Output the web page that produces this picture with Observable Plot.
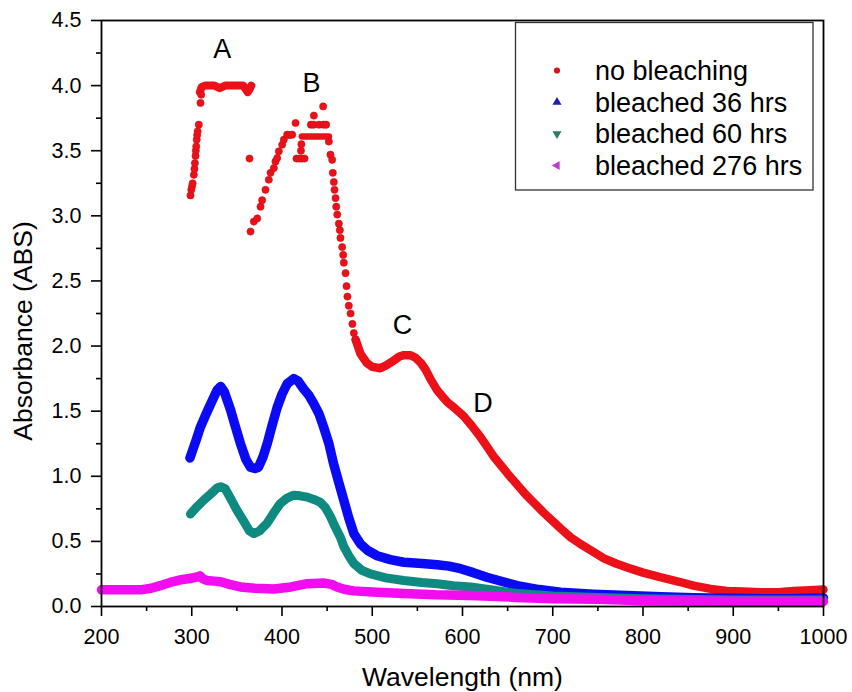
<!DOCTYPE html>
<html><head><meta charset="utf-8">
<script src="https://cdn.jsdelivr.net/npm/d3@7"></script>
<script src="https://cdn.jsdelivr.net/npm/@observablehq/plot@0.6"></script>
<style>body{margin:0;background:#fff;} #chart{width:852px;height:692px;}</style>
</head><body><div id="chart"></div>
<script>
const FONT = "'Liberation Sans', Arial, Helvetica, sans-serif";

// ---- tick values ----
const xMajor = [200, 300, 400, 500, 600, 700, 800, 900, 1000];
const xMinor = [250, 350, 450, 550, 650, 750, 850, 950];
const yMajor = [0, 0.5, 1.0, 1.5, 2.0, 2.5, 3.0, 3.5, 4.0, 4.5];
const yMinor = [0.25, 0.75, 1.25, 1.75, 2.25, 2.75, 3.25, 3.75, 4.25];

// ---- series names ----
const seriesNames = ["no bleaching", "bleached 36 hrs", "bleached 60 hrs", "bleached 276 hrs"];
const seriesColors = ["#ec1018", "#0a0af5", "#0f8a80", "#f20cef"];
const legendColors = ["#d41418", "#1f1fb0", "#2a7a6e", "#c03ad0"];

// ---- no bleaching: saturated, scattered region (dots) ----
const redDotNm  = [298.6,299.5,300.3,301,302.3,303,303.5,304.2,304.5,305,305.5,306,306.5,307.8,309.7,310.5,
                   364,
                   365.1,368.8,372.5,376.2,378,381.7,385.4,387.3,391,392.8,394.7,396.5,400.2,402,405.7,408.5,411.3,415,
                   416,419,422,425,421,421.5,
                   432,435,441,446,449,435.3,445.6,
                   451.9,453.7,455.6,456.3,457.4,458.2,459.3,460.1,461.2,463,464.1,464.8,466.7,467.8,468.5,470.4,471.5,472.5,474,476,478,479.6,481.5];
const redDotAbs = [3.157,3.20,3.226,3.25,3.315,3.36,3.405,3.46,3.50,3.533,3.585,3.62,3.649,3.70,3.867,3.93,
                   3.44,
                   2.879,2.956,2.98,3.07,3.12,3.20,3.277,3.33,3.367,3.418,3.444,3.495,3.546,3.585,3.623,3.62,3.623,3.713,
                   3.44,3.44,3.44,3.44,3.50,3.55,
                   3.70,3.70,3.70,3.70,3.70,3.77,3.84,
                   3.57,3.47,3.43,3.33,3.26,3.20,3.136,3.07,3.01,2.94,2.89,2.83,2.76,2.70,2.64,2.56,2.46,2.38,2.31,2.25,2.17,2.10,2.05];

// ---- no bleaching: plateau at ~4.0 (A) ----
const redPlatANm  = [309, 311, 315, 325, 331, 337, 350, 357, 360, 362, 364, 366];
const redPlatAAbs = [3.95,3.99,4.00,4.00,3.98,4.00,4.00,4.00,3.97,3.95,3.97,4.00];

// ---- no bleaching: plateau at ~3.61 (B) ----
const redPlatBNm  = [422, 430, 440, 452];
const redPlatBAbs = [3.61, 3.61, 3.61, 3.61];

// ---- no bleaching: continuous part ----
const redNm  = [481.5,483,487,494,500,509,515,522,530,535,542,548,554,559,565,572,578,583,592,601.5,610,620,627,634.7,650,670,690,708.6,720,730.7,745,756.6,770,782.5,800,819,840,856,875,893,910,930,950,967,985,1000];
const redAbs = [2.05,2.02,1.94,1.87,1.84,1.83,1.85,1.88,1.92,1.93,1.93,1.91,1.87,1.82,1.74,1.66,1.61,1.57,1.52,1.46,1.39,1.30,1.23,1.15,1.02,0.86,0.72,0.60,0.53,0.48,0.42,0.37,0.33,0.30,0.26,0.225,0.19,0.16,0.135,0.12,0.115,0.11,0.11,0.12,0.125,0.13];

// ---- bleached 36 hrs ----
const blueNm  = [298,305,309.7,316,322.6,328,332,336,343,348,354,360,365,370,374,379,383.6,389,394.7,400,405.7,413,418,424,430,435,441,446,452,457,463,468.5,474,479.6,487,495,505.5,520,535,555,572,585,598,612,627,645,660.6,685,708.6,745,782.5,820,856,893,930,965,1000];
const blueAbs = [1.14,1.28,1.38,1.48,1.58,1.66,1.69,1.65,1.51,1.39,1.25,1.13,1.07,1.06,1.07,1.15,1.25,1.39,1.53,1.63,1.71,1.75,1.73,1.67,1.62,1.56,1.48,1.38,1.25,1.10,0.95,0.815,0.68,0.56,0.48,0.43,0.39,0.36,0.34,0.33,0.32,0.31,0.29,0.26,0.225,0.19,0.16,0.13,0.11,0.095,0.085,0.075,0.067,0.063,0.06,0.06,0.065];

// ---- bleached 60 hrs ----
const tealNm  = [298.6,305,313,322,328,332,337,343,350,358,364,368.8,375,383.6,390,398,405,413,420,428,436,442.6,448,453.7,459,464.8,468.5,474,479.6,488,498,515,535,555,572,590,609,635,660.6,700,750,800,900,1000];
const tealAbs = [0.71,0.76,0.815,0.87,0.91,0.92,0.905,0.83,0.74,0.65,0.58,0.56,0.58,0.64,0.71,0.79,0.83,0.855,0.85,0.84,0.82,0.80,0.76,0.69,0.61,0.53,0.46,0.39,0.33,0.28,0.25,0.22,0.20,0.185,0.175,0.16,0.15,0.125,0.10,0.08,0.07,0.06,0.05,0.05];

// ---- bleached 276 hrs ----
const magNm  = [200,220,243,255,265,276,287.5,298,305,309,313,317,325,332,342,354,370,391,410,428,446,455,461,470,479.6,505,535,570,609,660,700,750,800,900,1000];
const magAbs = [0.128,0.128,0.128,0.14,0.16,0.185,0.205,0.215,0.225,0.235,0.21,0.20,0.195,0.19,0.17,0.15,0.14,0.135,0.15,0.175,0.18,0.17,0.15,0.13,0.12,0.11,0.10,0.09,0.085,0.07,0.06,0.055,0.045,0.04,0.04];

// ---- peak annotations ----
const peakLabels = ["A", "B", "C", "D"];
const peakNm  = [333.7, 432.7, 533.5, 622.7];
const peakAbs = [4.277, 4.02, 2.16, 1.56];

const rows = (nm, abs) => nm.map((x, i) => ({nm: x, abs: abs[i]}));
const redLines = [
  ...rows(redPlatANm, redPlatAAbs).map(d => ({...d, part: "A"})),
  ...rows(redPlatBNm, redPlatBAbs).map(d => ({...d, part: "B"})),
  ...rows(redNm, redAbs).map(d => ({...d, part: "C"}))
];
const labelRows = peakLabels.map((t, i) => ({t, nm: peakNm[i], abs: peakAbs[i]}));

const lineOpts = (color, w) => ({x: "nm", y: "abs", stroke: color, strokeWidth: w, strokeLinecap: "round", strokeLinejoin: "round"});

const chart = Plot.plot({
  width: 852, height: 692,
  marginLeft: 101, marginRight: 29, marginTop: 20, marginBottom: 86,
  style: {fontFamily: FONT, background: "#fff", color: "#000", overflow: "visible"},
  x: {domain: [200, 1000]},
  y: {domain: [0, 4.5]},
  marks: [
    Plot.line(redLines.filter(d => d.part === "A"), lineOpts(seriesColors[0], 8)),
    Plot.line(redLines.filter(d => d.part === "B"), lineOpts(seriesColors[0], 6.5)),
    Plot.line(redLines.filter(d => d.part === "C"), lineOpts(seriesColors[0], 8.5)),
    Plot.dot(rows(redDotNm, redDotAbs), {x: "nm", y: "abs", r: 3.6, fill: seriesColors[0], stroke: "#c81018", strokeWidth: 0.6}),
    Plot.line(rows(blueNm, blueAbs), lineOpts(seriesColors[1], 9.5)),
    Plot.line(rows(tealNm, tealAbs), lineOpts(seriesColors[2], 9)),
    Plot.line(rows(magNm, magAbs), lineOpts(seriesColors[3], 9.5)),
    Plot.text(labelRows, {x: "nm", y: "abs", text: "t", fontSize: 27, fill: "#000", textAnchor: "middle"}),
    Plot.frame({stroke: "#000", strokeWidth: 1.8}),
    Plot.axisX({ticks: xMajor, tickSize: 10, tickPadding: 12, fontSize: 21.5, label: null, strokeWidth: 1.6, tickFormat: d => String(d)}),
    Plot.axisX({ticks: xMinor, tickSize: 5, label: null, strokeWidth: 1.6, tickFormat: () => ""}),
    Plot.axisY({ticks: yMajor, tickSize: 10, tickPadding: 10, fontSize: 21.5, label: null, strokeWidth: 1.6, tickFormat: d3.format(".1f")}),
    Plot.axisY({ticks: yMinor, tickSize: 5, label: null, strokeWidth: 1.6, tickFormat: () => ""})
  ]
});

const svg = d3.select(chart);
// axis titles
svg.append("text").attr("x", 462.5).attr("y", 686).attr("text-anchor", "middle")
  .attr("font-family", FONT).attr("font-size", 26.5).attr("fill", "#000").text("Wavelength (nm)");
svg.append("text").attr("transform", "translate(31.5,331) rotate(-90)").attr("text-anchor", "middle")
  .attr("font-family", FONT).attr("font-size", 26.5).attr("fill", "#000").text("Absorbance (ABS)");

// legend
const lg = svg.append("g").attr("text-anchor", "start");
lg.append("rect").attr("x", 515.5).attr("y", 22.5).attr("width", 297.5).attr("height", 167.5)
  .attr("fill", "#fff").attr("stroke", "#333").attr("stroke-width", 1.3);
const symbols = [d3.symbolCircle, d3.symbolTriangle, d3.symbolTriangle, d3.symbolTriangle];
const rotations = [0, 0, 180, -90];
const sizes = [30, 36, 36, 36];
const baselines = [80, 111.7, 143.3, 175];
seriesNames.forEach((name, i) => {
  const cy = baselines[i] - 9.5;
  lg.append("path").attr("d", d3.symbol(symbols[i], sizes[i])())
    .attr("transform", `translate(557,${cy}) rotate(${rotations[i]})`)
    .attr("fill", legendColors[i]);
  lg.append("text").attr("x", 595).attr("y", baselines[i]).attr("text-anchor", "start")
    .attr("font-family", FONT).attr("font-size", 27).attr("fill", "#000").text(name);
});

document.getElementById("chart").appendChild(chart);
</script>
</body></html>
